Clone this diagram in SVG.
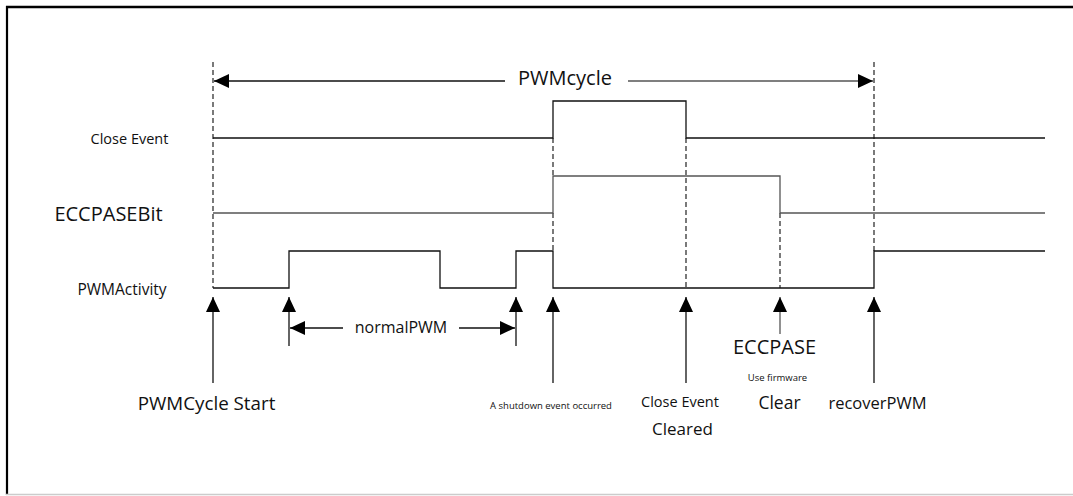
<svg xmlns="http://www.w3.org/2000/svg" width="1073" height="496" viewBox="0 0 1073 496">
<style>
.sig{fill:none;stroke:#111;stroke-width:1.3}
.sigg{fill:none;stroke:#555;stroke-width:1.3}
.dash{fill:none;stroke:#222;stroke-width:1.2;stroke-dasharray:5,3}
.arr{fill:none;stroke:#111;stroke-width:1.3;marker-end:url(#ah)}
text{font-family:"Open Sans","Noto Sans","Liberation Sans",sans-serif;fill:#111}
</style>
<defs>
<marker id="ah" markerUnits="userSpaceOnUse" markerWidth="15" markerHeight="14" viewBox="0 0 15 14" refX="15" refY="7" orient="auto">
<path d="M0,0 L15,7 L0,14 z" fill="#000"/>
</marker>
</defs>
<rect width="1073" height="496" fill="#fff"/>
<g id="frame">
<line x1="6" y1="7" x2="1073" y2="7" stroke="#000" stroke-width="2.5"/>
<line x1="7" y1="6" x2="7" y2="495" stroke="#000" stroke-width="2.2"/>
<line x1="6" y1="494.5" x2="1073" y2="494.5" stroke="#ccc" stroke-width="1.5"/>
</g>
<g id="labels">
<text x="129.5" y="144" font-size="14.5" text-anchor="middle">Close Event</text>
<text x="108.5" y="221" font-size="20" text-anchor="middle">ECCPASEBit</text>
<text x="122" y="295" font-size="15.5" text-anchor="middle">PWMActivity</text>
</g>
<g id="guides">
<line class="dash" x1="213" y1="62" x2="213" y2="288"/>
<line class="dash" x1="874" y1="62" x2="874" y2="251"/>
<line class="dash" x1="553" y1="138" x2="553" y2="176"/>
<line class="dash" x1="553" y1="213" x2="553" y2="251"/>
<line class="dash" x1="686" y1="138" x2="686" y2="288"/>
<line class="dash" x1="780" y1="213" x2="780" y2="288"/>
</g>
<g id="close-event">
<polyline class="sig" points="213,138 553,138 553,101 686,101 686,138 1045,138"/>
</g>
<g id="eccpase-bit">
<polyline class="sigg" points="213,213 553,213 553,176 780,176 780,213 1045,213"/>
</g>
<g id="pwm-activity">
<polyline class="sig" points="213,288 289,288 289,251 440,251 440,288 516,288 516,251 553,251 553,288 874,288 874,251 1045,251"/>
</g>
<g id="pwmcycle">
<text x="565" y="85" font-size="20" text-anchor="middle">PWMcycle</text>
</g>
<g id="normalpwm">
<text x="401" y="333" font-size="16" text-anchor="middle">normalPWM</text>
</g>
<g id="connectors">
<line class="arr" x1="505" y1="81" x2="214" y2="81"/>
<line class="arr" x1="628" y1="81" x2="873" y2="81" style="stroke:#555"/>
<line class="arr" x1="343" y1="328" x2="290" y2="328"/>
<line class="arr" x1="459" y1="328" x2="515" y2="328"/>
<line class="arr" x1="213" y1="383" x2="213" y2="297"/>
<line class="arr" x1="289" y1="346" x2="289" y2="297"/>
<line class="arr" x1="516" y1="346" x2="516" y2="297"/>
<line class="arr" x1="553" y1="383" x2="553" y2="297"/>
<line class="arr" x1="686" y1="383" x2="686" y2="297"/>
<line class="arr" x1="780" y1="334" x2="780" y2="297" style="stroke:#555"/>
<line class="arr" x1="874" y1="383" x2="874" y2="297"/>
</g>
<g id="event-start"><text x="206.5" y="410" font-size="18.8" text-anchor="middle">PWMCycle Start</text></g>
<g id="event-shutdown"><text x="551" y="409" font-size="9.5" text-anchor="middle">A shutdown event occurred</text></g>
<g id="event-close-cleared">
<text x="680" y="407" font-size="14.5" text-anchor="middle">Close Event</text>
<text x="682.5" y="435" font-size="17" text-anchor="middle">Cleared</text>
</g>
<g id="event-eccpase">
<text x="774.5" y="354" font-size="20" text-anchor="middle">ECCPASE</text>
<text x="777.5" y="381" font-size="9.5" text-anchor="middle">Use firmware</text>
<text x="779.5" y="409" font-size="17.5" text-anchor="middle">Clear</text>
</g>
<g id="event-recover"><text x="877.5" y="409" font-size="16.5" text-anchor="middle">recoverPWM</text></g>
</svg>
